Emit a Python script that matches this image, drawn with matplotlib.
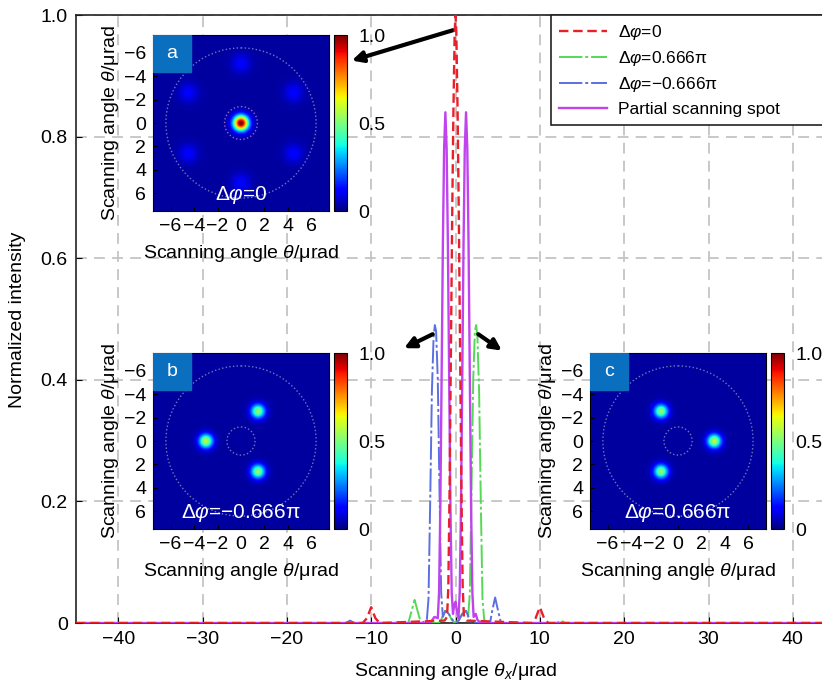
import numpy as np
import matplotlib.pyplot as plt
from matplotlib.patches import Circle, Rectangle

plt.rcParams['font.family'] = ['Liberation Sans', 'DejaVu Sans']
plt.rcParams['mathtext.fontset'] = 'custom'
plt.rcParams['mathtext.rm'] = 'Liberation Sans'
plt.rcParams['mathtext.it'] = 'Liberation Sans:italic'
plt.rcParams['font.size'] = 13

# ---- main plot curves ----
red_x = [-45, -11.0, -10.5, -10.0, -9.5, -9.0, -1.3, -1.0, -0.85, -0.7, -0.55, -0.4, -0.25, -0.1, 0.0,
         0.1, 0.25, 0.4, 0.55, 0.7, 0.85, 1.0, 1.3, 9.0, 9.5, 10.0, 10.5, 11.0, 45]
red_y = [0, 0, 0.008, 0.026, 0.008, 0, 0.004, 0.01, 0.06, 0.22, 0.44, 0.66, 0.84, 0.97, 1.0,
         0.97, 0.84, 0.66, 0.44, 0.22, 0.06, 0.01, 0.004, 0, 0.008, 0.026, 0.008, 0, 0]

green_x = [-45, -5.6, -5.2, -4.85, -4.5, -4.1, -2.0, -1.7, -1.25, -0.8, -0.4, 0.0, 0.4, 0.8, 1.2, 1.5,
           1.7, 1.9, 2.1, 2.3, 2.45, 2.6, 2.8, 3.0, 3.2, 3.4, 4.0, 12.0, 12.5, 13.0, 45]
green_y = [0, 0, 0.02, 0.038, 0.02, 0, 0, 0.005, 0.02, 0.015, 0.004, 0, 0.006, 0.015, 0.02, 0.01,
           0.05, 0.22, 0.4, 0.48, 0.49, 0.47, 0.38, 0.2, 0.04, 0.005, 0, 0, 0.004, 0, 0]

blue_x = [-45, -13.0, -12.5, -12.0, -4.0, -3.4, -3.2, -3.0, -2.8, -2.6, -2.45, -2.3, -2.1, -1.9, -1.7,
          -1.5, -1.2, -0.8, -0.4, 0.0, 0.4, 0.8, 1.25, 1.7, 2.0, 4.1, 4.35, 4.7, 5.05, 5.4, 45]
blue_y = [0, 0, 0.004, 0, 0, 0.005, 0.04, 0.2, 0.38, 0.47, 0.49, 0.48, 0.4, 0.22, 0.05,
          0.01, 0.02, 0.015, 0.006, 0, 0.004, 0.015, 0.02, 0.005, 0, 0, 0.02, 0.042, 0.02, 0, 0]

violet_x = [-45, -3.0, -2.5, -2.1, -1.95, -1.8, -1.65, -1.5, -1.35, -1.2, -1.05, -0.9, -0.75, -0.6,
            -0.45, -0.3, -0.15, 0.0, 0.15, 0.35, 0.5, 0.65, 0.8, 0.95, 1.1, 1.25, 1.4, 1.55, 1.7,
            1.85, 2.0, 2.15, 2.4, 2.6, 3.0, 45]
violet_y = [0, 0, 0.01, 0.008, 0.05, 0.19, 0.40, 0.62, 0.78, 0.84, 0.78, 0.62, 0.40, 0.19,
            0.05, 0.015, 0.03, 0.035, 0.02, 0.008, 0.05, 0.19, 0.40, 0.62, 0.78, 0.84, 0.78, 0.62, 0.40,
            0.19, 0.05, 0.01, 0.015, 0.005, 0, 0]

labels = [r'Δ$\varphi$=0', r'Δ$\varphi$=0.666π', r'Δ$\varphi$=−0.666π', 'Partial scanning spot']
xticks = [-40, -30, -20, -10, 0, 10, 20, 30, 40]
yticks = [0, 0.2, 0.4, 0.6, 0.8, 1.0]
ytick_labels = ['0', '0.2', '0.4', '0.6', '0.8', '1.0']

# ---- inset spot maps: centre x, centre y (urad), peak value, width ----
a_spot_x = [0.0, 0.0, -4.5, 4.5, -4.5, 4.5, 0.0]
a_spot_y = [0.0, -5.1, -2.6, -2.6, 2.6, 2.6, 5.1]
a_spot_amp = [1.0, 0.09, 0.09, 0.09, 0.09, 0.09, 0.09]
a_spot_w = [0.45, 0.55, 0.55, 0.55, 0.55, 0.55, 0.55]

b_spot_x = [-3.0, 1.45, 1.45]
b_spot_y = [0.0, -2.55, 2.6]
b_spot_amp = [0.55, 0.5, 0.5]
b_spot_w = [0.42, 0.42, 0.42]

c_spot_x = [3.1, -1.45, -1.45]
c_spot_y = [0.0, -2.55, 2.6]
c_spot_amp = [0.55, 0.5, 0.5]
c_spot_w = [0.42, 0.42, 0.42]

inset_ticks = [-6, -4, -2, 0, 2, 4, 6]
background = 0.03

W, H = 822, 688
fig = plt.figure(figsize=(W / 100, H / 100), dpi=100)
ax = fig.add_axes([76 / W, 1 - 623 / H, 759 / W, 608 / H])

line_dd = (12, 1.5, 1.5, 1.5)
ax.plot(green_x, green_y, color='#55D855', lw=1.4, dashes=line_dd, label=labels[1], zorder=3)
ax.plot(blue_x, blue_y, color='#5B70E0', lw=1.4, dashes=line_dd, label=labels[2], zorder=3)
ax.plot(violet_x, violet_y, color='#C043EE', lw=1.7, label=labels[3], zorder=4)
ax.plot(red_x, red_y, color='#E8202A', lw=1.7, dashes=(4, 2), label=labels[0], zorder=5)

ax.set_xlim(-45, 45)
ax.set_ylim(0, 1)
ax.set_xticks(xticks)
ax.set_yticks(yticks)
ax.set_yticklabels(ytick_labels)
ax.tick_params(direction='in', length=4, labelsize=14, pad=6)
ax.grid(True, color='#C4C4C4', linestyle=(0, (6, 4)), lw=1.3)
ax.set_axisbelow(True)
for s in ax.spines.values():
    s.set_linewidth(1.2)
    s.set_color('#222222')
ax.set_xlabel(r'Scanning angle $\theta_x$/μrad', fontsize=14, labelpad=9)
fig.text(18 / W, 1 - 320 / H, 'Normalized intensity', rotation=90, fontsize=14,
         ha='center', va='center')

handles, labs = ax.get_legend_handles_labels()
order = [3, 0, 1, 2]
leg = fig.legend([handles[i] for i in order], [labs[i] for i in order],
                 loc='upper left', bbox_to_anchor=(551 / W, 1 - 127 / H, 330 / W, 112 / H),
                 mode='expand', fontsize=12.5, handlelength=2.8, handletextpad=0.6,
                 labelspacing=0.42, fancybox=False, framealpha=1, edgecolor='#222222',
                 borderpad=0.45, borderaxespad=0)
leg.get_frame().set_linewidth(1.2)

# arrows
arrow = dict(arrowstyle='-|>', color='k', lw=3, mutation_scale=16, shrinkA=0, shrinkB=0)
ax.annotate('', xy=(-12.3, 0.925), xytext=(-0.3, 0.975), arrowprops=arrow, annotation_clip=False)
ax.annotate('', xy=(-6.1, 0.452), xytext=(-2.7, 0.475), arrowprops=arrow)
ax.annotate('', xy=(5.5, 0.448), xytext=(2.7, 0.475), arrowprops=arrow)

# ---- insets ----
grid = np.linspace(-7.5, 7.5, 301)
gx, gy = np.meshgrid(grid, grid)


def spot_map(xs, ys, amps, ws):
    img = np.full(gx.shape, background)
    for x0, y0, a0, w0 in zip(xs, ys, amps, ws):
        img += a0 * np.exp(-((gx - x0) ** 2 + (gy - y0) ** 2) / (2 * w0 ** 2))
    return np.clip(img, 0, 1)


def add_inset(px, py, spots, tag, caption, inner_r, inner_col):
    x0, y0, size = px, py, 176
    iax = fig.add_axes([x0 / W, 1 - (y0 + size) / H, size / W, size / H])
    im = iax.imshow(spot_map(*spots), cmap='jet', vmin=0, vmax=1,
                    extent=[-7.5, 7.5, 7.5, -7.5], aspect='auto', interpolation='bilinear')
    iax.add_patch(Circle((0, 0), 6.4, fill=False, ec='#8A93C8', ls=':', lw=1, alpha=0.8))
    iax.add_patch(Circle((0, 0), inner_r, fill=False, ec=inner_col, ls=':', lw=1, alpha=0.8))
    iax.set_xticks(inset_ticks)
    iax.set_yticks(inset_ticks)
    iax.tick_params(direction='in', length=3, labelsize=14, pad=5)
    iax.set_xlabel(r'Scanning angle $\theta$/μrad', fontsize=14, labelpad=6)
    iax.set_ylabel(r'Scanning angle $\theta$/μrad', fontsize=14, labelpad=2)
    iax.add_patch(Rectangle((0, 0.79), 0.215, 0.21, transform=iax.transAxes,
                            color='#0A6FBF', zorder=5))
    iax.text(0.108, 0.895, tag, color='white', ha='center', va='center',
             transform=iax.transAxes, fontsize=14, zorder=6)
    iax.text(0.5, 0.03, caption, color='white', ha='center', va='bottom',
             transform=iax.transAxes, fontsize=15)
    cax = fig.add_axes([(x0 + size + 5) / W, 1 - (y0 + size) / H, 13 / W, size / H])
    cb = fig.colorbar(im, cax=cax, ticks=[0, 0.5, 1.0])
    cb.ax.set_yticklabels(['0', '0.5', '1.0'])
    cb.ax.tick_params(length=0, pad=8, labelsize=14)
    cb.outline.set_linewidth(0.8)


add_inset(153, 35, (a_spot_x, a_spot_y, a_spot_amp, a_spot_w), 'a', r'Δ$\varphi$=0', 1.4, '#C080C0')
add_inset(153, 353, (b_spot_x, b_spot_y, b_spot_amp, b_spot_w), 'b', r'Δ$\varphi$=−0.666π', 1.2, '#8A93C8')
add_inset(590, 353, (c_spot_x, c_spot_y, c_spot_amp, c_spot_w), 'c', r'Δ$\varphi$=0.666π', 1.2, '#8A93C8')

fig.savefig('out.png', dpi=100)
